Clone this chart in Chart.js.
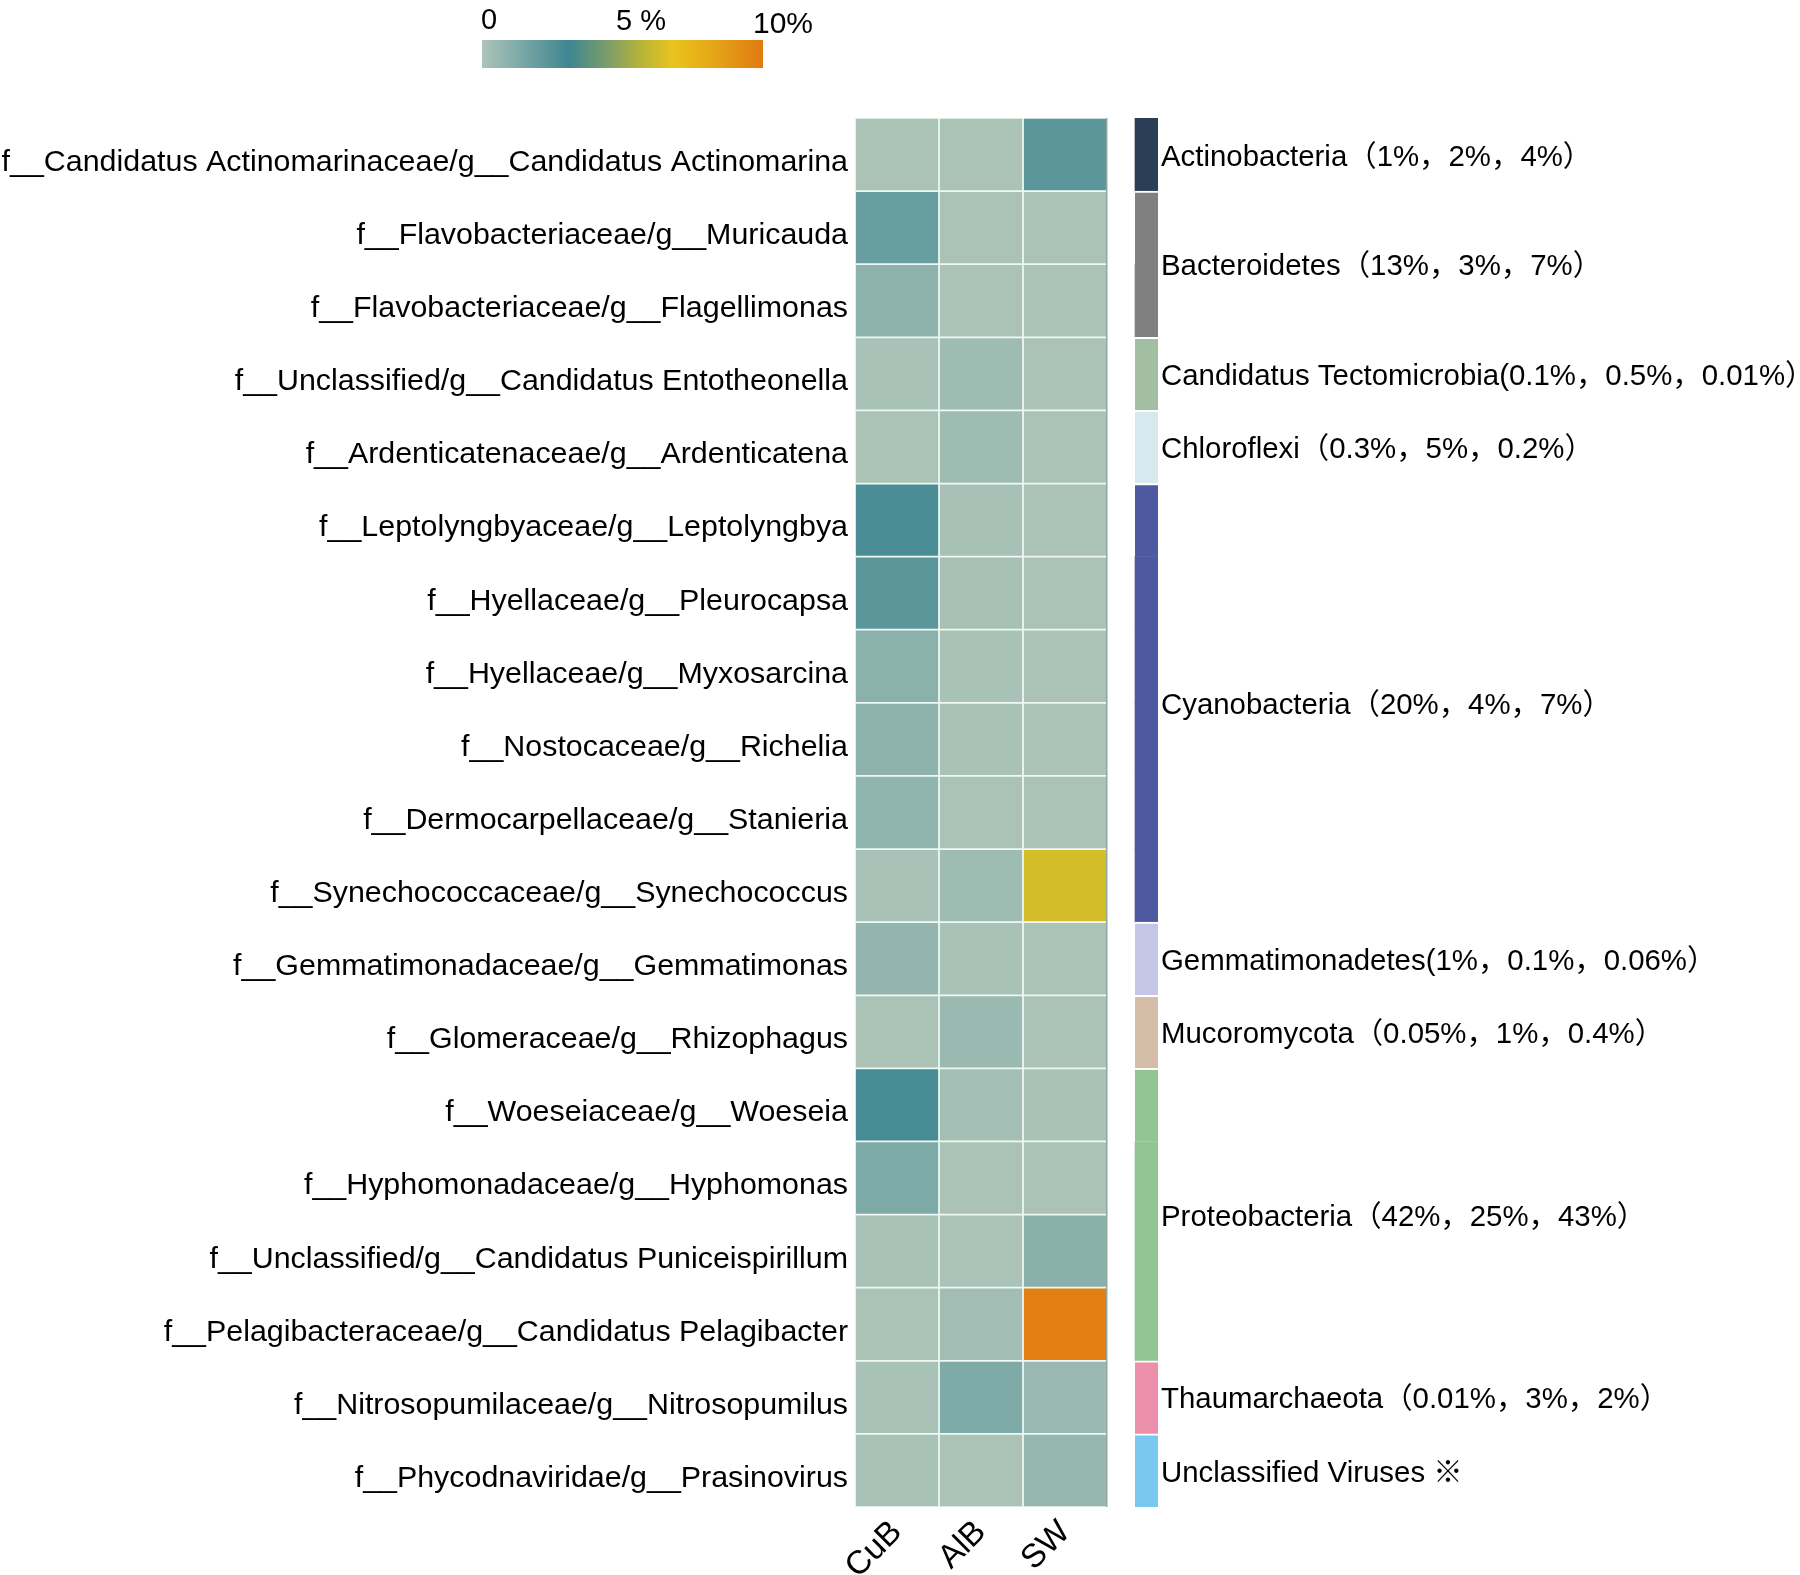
<!DOCTYPE html>
<html>
<head>
<meta charset="utf-8">
<script src="https://cdn.jsdelivr.net/npm/chart.js@4"></script>
<style>
  html, body { margin: 0; padding: 0; background: #ffffff; }
  #wrap { width: 1800px; height: 1575px; position: relative; }
</style>
</head>
<body>
<div id="wrap"><canvas id="c"></canvas></div>
<script>
// ---------------- data ----------------
const taxa = [
  'f__Candidatus Actinomarinaceae/g__Candidatus Actinomarina',
  'f__Flavobacteriaceae/g__Muricauda',
  'f__Flavobacteriaceae/g__Flagellimonas',
  'f__Unclassified/g__Candidatus Entotheonella',
  'f__Ardenticatenaceae/g__Ardenticatena',
  'f__Leptolyngbyaceae/g__Leptolyngbya',
  'f__Hyellaceae/g__Pleurocapsa',
  'f__Hyellaceae/g__Myxosarcina',
  'f__Nostocaceae/g__Richelia',
  'f__Dermocarpellaceae/g__Stanieria',
  'f__Synechococcaceae/g__Synechococcus',
  'f__Gemmatimonadaceae/g__Gemmatimonas',
  'f__Glomeraceae/g__Rhizophagus',
  'f__Woeseiaceae/g__Woeseia',
  'f__Hyphomonadaceae/g__Hyphomonas',
  'f__Unclassified/g__Candidatus Puniceispirillum',
  'f__Pelagibacteraceae/g__Candidatus Pelagibacter',
  'f__Nitrosopumilaceae/g__Nitrosopumilus',
  'f__Phycodnaviridae/g__Prasinovirus'
];
const samples = ['CuB', 'AlB', 'SW'];
// relative abundance (%) per taxon
const cubValues = [0.05, 1.9, 0.86, 0.1, 0.05, 2.77, 2.3, 0.94, 0.86, 0.8, 0.11, 0.75, 0.05, 2.85, 1.33, 0.1, 0.05, 0.1, 0.1];
const albValues = [0.05, 0.05, 0.05, 0.39, 0.4, 0.14, 0.2, 0.1, 0.1, 0.08, 0.39, 0.1, 0.53, 0.25, 0.05, 0.08, 0.3, 1.3, 0.05];
const swValues  = [2.3, 0.05, 0.05, 0.05, 0.05, 0.05, 0.05, 0.05, 0.05, 0.05, 6.3, 0.05, 0.05, 0.1, 0.05, 1.0, 9.8, 0.55, 0.64];

const phylumLabels = [
  'Actinobacteria（1%，2%，4%）',
  'Bacteroidetes（13%，3%，7%）',
  'Candidatus Tectomicrobia(0.1%，0.5%，0.01%）',
  'Chloroflexi（0.3%，5%，0.2%）',
  'Cyanobacteria（20%，4%，7%）',
  'Gemmatimonadetes(1%，0.1%，0.06%）',
  'Mucoromycota（0.05%，1%，0.4%）',
  'Proteobacteria（42%，25%，43%）',
  'Thaumarchaeota（0.01%，3%，2%）',
  'Unclassified Viruses ※'
];
const phylumRowCounts = [1, 2, 1, 1, 6, 1, 1, 4, 1, 1];
const phylumColors = ['#2b3e56', '#808080', '#a3bfa3', '#d5e9ef', '#4f59a0', '#c5c6e6', '#d4bea8', '#93c593', '#ec8fab', '#78c8f0'];

const colorbarTicks = ['0', '5 %', '10%'];
const colorMax = 10;

// ---------------- colour scale ----------------
const colorStops = [
  [0.00, '#adc4b8'],
  [0.31, '#3e8691'],
  [0.45, '#7d9e68'],
  [0.57, '#b8b538'],
  [0.68, '#e9c41d'],
  [0.85, '#e4a016'],
  [1.00, '#e07a12']
];
function hexToRgb(h) { const n = parseInt(h.slice(1), 16); return [(n >> 16) & 255, (n >> 8) & 255, n & 255]; }
function colorFor(v) {
  const f = Math.max(0, Math.min(1, v / colorMax));
  for (let i = 1; i < colorStops.length; i++) {
    if (f <= colorStops[i][0]) {
      const [f0, c0] = colorStops[i - 1], [f1, c1] = colorStops[i];
      const t = (f - f0) / (f1 - f0);
      const a = hexToRgb(c0), b = hexToRgb(c1);
      return 'rgb(' + a.map((x, k) => Math.round(x + (b[k] - x) * t)).join(',') + ')';
    }
  }
  return colorStops[colorStops.length - 1][1];
}

// ---------------- derived ----------------
const sampleValues = [cubValues, albValues, swValues];
const rowPhylum = [];
const groupStarts = [];
phylumRowCounts.forEach((n, g) => { groupStarts.push(rowPhylum.length); for (let k = 0; k < n; k++) rowPhylum.push(g); });
const groupCenters = phylumRowCounts.map((n, g) => groupStarts[g] + (n - 1) / 2);

const stripStart = 3 + 28 / 84;
const stripEnd = stripStart + 23 / 84;

const FONT = "'Liberation Sans', Arial, 'Noto Sans CJK SC', sans-serif";
Chart.defaults.font.family = FONT;
Chart.defaults.color = '#000';

const heatDatasets = samples.map((s, c) => ({
  label: s,
  data: taxa.map(() => [c, c + 1]),
  backgroundColor: sampleValues[c].map(colorFor),
  borderColor: '#eef8f4',
  borderWidth: 1.2,
  borderSkipped: false,
  barPercentage: 1,
  categoryPercentage: 1,
  grouped: false
}));
const stripDataset = {
  label: 'phylum',
  data: taxa.map(() => [stripStart, stripEnd]),
  backgroundColor: rowPhylum.map(g => phylumColors[g]),
  borderColor: '#ffffff',
  borderWidth: (ctx) => {
    const i = ctx.dataIndex;
    const top = (i > 0 && groupStarts.includes(i)) ? 2 : 0;
    return { top: top, bottom: 0, left: 0, right: 0 };
  },
  borderSkipped: false,
  barPercentage: 1,
  categoryPercentage: 1,
  grouped: false
};

const colorbarPlugin = {
  id: 'colorbar',
  afterDraw(chart) {
    const ctx = chart.ctx;
    const x0 = 482, x1 = 763, y0 = 40, y1 = 68;
    const g = ctx.createLinearGradient(x0, 0, x1, 0);
    colorStops.forEach(([f, c]) => g.addColorStop(f, c));
    ctx.save();
    ctx.fillStyle = g;
    ctx.fillRect(x0, y0, x1 - x0, y1 - y0);
    ctx.fillStyle = '#000';
    ctx.textAlign = 'center';
    ctx.textBaseline = 'alphabetic';
    const pos = [[489, 29, 29], [641, 30, 29], [783, 33, 30]];
    colorbarTicks.forEach((t, i) => {
      ctx.font = pos[i][2] + 'px ' + FONT;
      ctx.fillText(t, pos[i][0], pos[i][1]);
    });
    ctx.restore();
  }
};

new Chart(document.getElementById('c'), {
  type: 'bar',
  data: { labels: taxa, datasets: [...heatDatasets, stripDataset] },
  plugins: [colorbarPlugin],
  options: {
    indexAxis: 'y',
    responsive: true,
    maintainAspectRatio: false,
    animation: false,
    devicePixelRatio: 1,
    layout: { padding: { top: 118, left: 0, right: 0, bottom: 0 } },
    plugins: { legend: { display: false }, tooltip: { enabled: false } },
    scales: {
      x: {
        type: 'linear',
        position: 'bottom',
        min: 0,
        max: stripEnd,
        offset: false,
        border: { display: false },
        grid: {
          display: true,
          drawTicks: false,
          z: 1,
          lineWidth: 1.5,
          color: (ctx) => (ctx.tick && ctx.tick.value === 3) ? '#93a8a2' : 'rgba(0,0,0,0)'
        },
        afterBuildTicks: (axis) => { axis.ticks = [0.5, 1.5, 2.5, 3].map(v => ({ value: v })); },
        ticks: {
          autoSkip: false,
          minRotation: 45,
          maxRotation: 45,
          padding: 6,
          color: '#000',
          font: { size: 33 },
          callback: (v, i) => samples[i] !== undefined ? samples[i] : ''
        },
        afterFit: (axis) => { axis.height = 68; }
      },
      y: {
        type: 'category',
        position: 'left',
        border: { display: false },
        grid: { display: false, drawTicks: false },
        ticks: { autoSkip: false, padding: 7, labelOffset: 8, color: '#000', font: { size: 30.4 } },
        afterFit: (axis) => { axis.width = 855; }
      },
      y2: {
        type: 'linear',
        position: 'right',
        min: -0.5,
        max: taxa.length - 0.5,
        reverse: true,
        offset: false,
        grace: 0,
        border: { display: false },
        grid: { display: false, drawTicks: false, offset: false },
        afterBuildTicks: (axis) => { axis.ticks = groupCenters.map(v => ({ value: v })); },
        ticks: {
          autoSkip: false,
          padding: 3,
          labelOffset: 3,
          color: '#000',
          font: { size: 29.4 },
          callback: (v, i) => phylumLabels[i]
        },
        afterFit: (axis) => { axis.width = 642; }
      }
    }
  }
});
</script>
</body>
</html>
